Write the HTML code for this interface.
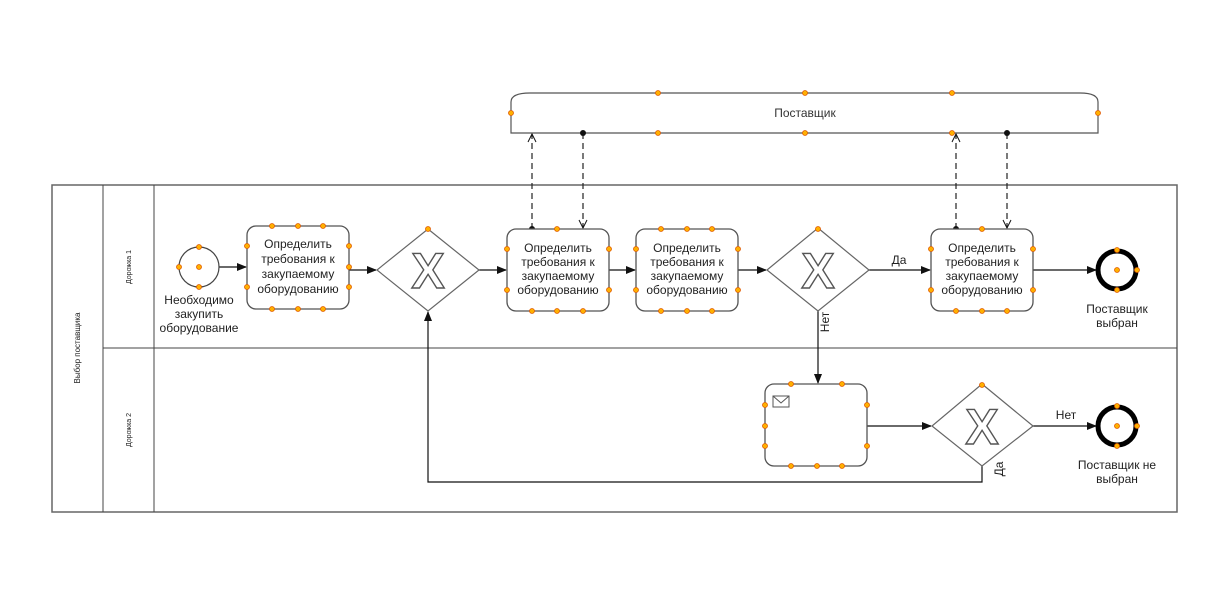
<!DOCTYPE html>
<html><head><meta charset="utf-8"><style>
html,body{margin:0;padding:0;background:#fff;}
svg{display:block;font-family:"Liberation Sans","DejaVu Sans",sans-serif;}
</style></head><body>
<svg width="1232" height="610" viewBox="0 0 1232 610" xmlns="http://www.w3.org/2000/svg">
<defs>
<marker id="a" markerWidth="10" markerHeight="8" refX="9" refY="4" orient="auto" markerUnits="userSpaceOnUse"><path d="M0,0 L10,4 L0,8 z" fill="#111"/></marker>
<marker id="o" markerWidth="10" markerHeight="10" refX="9" refY="5" orient="auto" markerUnits="userSpaceOnUse"><path d="M1,1 L9,5 L1,9" fill="none" stroke="#111" stroke-width="1"/></marker>
</defs>
<rect x="52" y="185" width="1125" height="327" fill="#fff" stroke="#666" stroke-width="1.5"/>
<line x1="103" y1="185" x2="103" y2="512" stroke="#444"/>
<line x1="154" y1="185" x2="154" y2="512" stroke="#444"/>
<line x1="103" y1="348" x2="1177" y2="348" stroke="#444"/>
<text x="80" y="348" font-size="8" text-anchor="middle" transform="rotate(-90 80 348)" fill="#222">Выбор поставщика</text>
<text x="131" y="267" font-size="7" text-anchor="middle" transform="rotate(-90 131 267)" fill="#222">Дорожка 1</text>
<text x="131" y="430" font-size="7" text-anchor="middle" transform="rotate(-90 131 430)" fill="#222">Дорожка 2</text>

<path d="M511,133 L511,102 Q511,93 530,93 L1080,93 Q1098,93 1098,102 L1098,133 Z" fill="#fff" stroke="#555" stroke-width="1.2"/>
<text x="805" y="117" font-size="12" text-anchor="middle" fill="#333">Поставщик</text>

<g stroke="#222" stroke-width="1.2" stroke-dasharray="6,4" fill="none">
<line x1="532" y1="229" x2="532" y2="134" marker-end="url(#o)"/>
<line x1="583" y1="133" x2="583" y2="228" marker-end="url(#o)"/>
<line x1="956" y1="229" x2="956" y2="134" marker-end="url(#o)"/>
<line x1="1007" y1="133" x2="1007" y2="228" marker-end="url(#o)"/>
</g>
<g fill="#111"><circle cx="532" cy="229" r="3"/><circle cx="583" cy="133" r="3"/><circle cx="956" cy="229" r="3"/><circle cx="1007" cy="133" r="3"/></g>

<g stroke="#111" stroke-width="1.2" fill="none">
<line x1="219" y1="267" x2="246" y2="267" marker-end="url(#a)"/>
<line x1="349" y1="270" x2="376" y2="270" marker-end="url(#a)"/>
<line x1="479" y1="270" x2="506" y2="270" marker-end="url(#a)"/>
<line x1="609" y1="270" x2="635" y2="270" marker-end="url(#a)"/>
<line x1="738" y1="270" x2="766" y2="270" marker-end="url(#a)"/>
<line x1="869" y1="270" x2="930" y2="270" marker-end="url(#a)"/>
<line x1="1033" y1="270" x2="1096" y2="270" marker-end="url(#a)"/>
<line x1="818" y1="311" x2="818" y2="383" marker-end="url(#a)"/>
<line x1="867" y1="426" x2="931" y2="426" marker-end="url(#a)"/>
<line x1="1033" y1="426" x2="1096" y2="426" marker-end="url(#a)"/>
<polyline points="982,466 982,482 428,482 428,312" marker-end="url(#a)"/>
</g>
<text x="899" y="264" font-size="12" text-anchor="middle" fill="#222">Да</text>
<text x="1066" y="419" font-size="12" text-anchor="middle" fill="#222">Нет</text>
<text x="829" y="322" font-size="12" text-anchor="middle" transform="rotate(-90 829 322)" fill="#222">Нет</text>
<text x="1003" y="469" font-size="12" text-anchor="middle" transform="rotate(-90 1003 469)" fill="#222">Да</text>

<circle cx="199" cy="267" r="20" fill="#fff" stroke="#444" stroke-width="1.2"/>
<text font-size="12" text-anchor="middle" fill="#222"><tspan x="199" y="304">Необходимо</tspan><tspan x="199" y="318">закупить</tspan><tspan x="199" y="332">оборудование</tspan></text>

<g fill="#fff" stroke="#555" stroke-width="1.3">
<rect x="247" y="226" width="102" height="83" rx="9"/>
<rect x="507" y="229" width="102" height="82" rx="9"/>
<rect x="636" y="229" width="102" height="82" rx="9"/>
<rect x="931" y="229" width="102" height="82" rx="9"/>
<rect x="765" y="384" width="102" height="82" rx="9"/>
</g>
<rect x="773" y="396" width="16" height="11" fill="#fff" stroke="#555"/>
<path d="M773,396 L781,403 L789,396" fill="none" stroke="#555"/>
<g font-size="12" text-anchor="middle" fill="#222">
<text><tspan x="298" y="248">Определить</tspan><tspan x="298" y="263">требования к</tspan><tspan x="298" y="278">закупаемому</tspan><tspan x="298" y="293">оборудованию</tspan></text>
<text><tspan x="558" y="252">Определить</tspan><tspan x="558" y="266">требования к</tspan><tspan x="558" y="280">закупаемому</tspan><tspan x="558" y="294">оборудованию</tspan></text>
<text><tspan x="687" y="252">Определить</tspan><tspan x="687" y="266">требования к</tspan><tspan x="687" y="280">закупаемому</tspan><tspan x="687" y="294">оборудованию</tspan></text>
<text><tspan x="982" y="252">Определить</tspan><tspan x="982" y="266">требования к</tspan><tspan x="982" y="280">закупаемому</tspan><tspan x="982" y="294">оборудованию</tspan></text>
</g>

<g fill="#fff" stroke="#666" stroke-width="1.2">
<polygon points="428,229 479,270 428,311 377,270"/>
<polygon points="818,228 869,270 818,311 767,270"/>
<polygon points="982,384 1033,426 982,466 932,426"/>
</g>
<g font-size="50" font-weight="bold" text-anchor="middle" fill="#fff" stroke="#555" stroke-width="1.4">
<text x="428" y="288">X</text><text x="818" y="288">X</text><text x="982" y="444">X</text>
</g>

<circle cx="1117" cy="270" r="19" fill="#fff" stroke="#000" stroke-width="5"/>
<circle cx="1117" cy="426" r="19" fill="#fff" stroke="#000" stroke-width="5"/>
<text font-size="12" text-anchor="middle" fill="#222"><tspan x="1117" y="313">Поставщик</tspan><tspan x="1117" y="327">выбран</tspan></text>
<text font-size="12" text-anchor="middle" fill="#222"><tspan x="1117" y="469">Поставщик не</tspan><tspan x="1117" y="483">выбран</tspan></text>

<g fill="#ffb000" stroke="#e05a00" stroke-width="0.8">
<circle cx="199" cy="247" r="2.5"/><circle cx="179" cy="267" r="2.5"/><circle cx="199" cy="267" r="2.5"/><circle cx="199" cy="287" r="2.5"/>
<circle cx="272" cy="226" r="2.5"/><circle cx="298" cy="226" r="2.5"/><circle cx="323" cy="226" r="2.5"/>
<circle cx="272" cy="309" r="2.5"/><circle cx="298" cy="309" r="2.5"/><circle cx="323" cy="309" r="2.5"/>
<circle cx="247" cy="246" r="2.5"/><circle cx="247" cy="287" r="2.5"/>
<circle cx="349" cy="246" r="2.5"/><circle cx="349" cy="267" r="2.5"/><circle cx="349" cy="287" r="2.5"/>
<circle cx="428" cy="229" r="2.5"/>
<circle cx="557" cy="229" r="2.5"/><circle cx="532" cy="311" r="2.5"/><circle cx="557" cy="311" r="2.5"/><circle cx="583" cy="311" r="2.5"/>
<circle cx="507" cy="249" r="2.5"/><circle cx="507" cy="290" r="2.5"/><circle cx="609" cy="249" r="2.5"/><circle cx="609" cy="290" r="2.5"/>
<circle cx="661" cy="229" r="2.5"/><circle cx="687" cy="229" r="2.5"/><circle cx="712" cy="229" r="2.5"/>
<circle cx="661" cy="311" r="2.5"/><circle cx="687" cy="311" r="2.5"/><circle cx="712" cy="311" r="2.5"/>
<circle cx="636" cy="249" r="2.5"/><circle cx="636" cy="290" r="2.5"/><circle cx="738" cy="249" r="2.5"/><circle cx="738" cy="290" r="2.5"/>
<circle cx="818" cy="229" r="2.5"/>
<circle cx="982" cy="229" r="2.5"/><circle cx="956" cy="311" r="2.5"/><circle cx="982" cy="311" r="2.5"/><circle cx="1007" cy="311" r="2.5"/>
<circle cx="931" cy="249" r="2.5"/><circle cx="931" cy="290" r="2.5"/><circle cx="1033" cy="249" r="2.5"/><circle cx="1033" cy="290" r="2.5"/>
<circle cx="1117" cy="250" r="2.5"/><circle cx="1117" cy="270" r="2.5"/><circle cx="1137" cy="270" r="2.5"/><circle cx="1117" cy="290" r="2.5"/>
<circle cx="1117" cy="406" r="2.5"/><circle cx="1117" cy="426" r="2.5"/><circle cx="1137" cy="426" r="2.5"/><circle cx="1117" cy="446" r="2.5"/>
<circle cx="791" cy="384" r="2.5"/><circle cx="842" cy="384" r="2.5"/>
<circle cx="791" cy="466" r="2.5"/><circle cx="817" cy="466" r="2.5"/><circle cx="842" cy="466" r="2.5"/>
<circle cx="765" cy="405" r="2.5"/><circle cx="765" cy="426" r="2.5"/><circle cx="765" cy="446" r="2.5"/>
<circle cx="867" cy="405" r="2.5"/><circle cx="867" cy="446" r="2.5"/>
<circle cx="982" cy="385" r="2.5"/>
<circle cx="658" cy="93" r="2.5"/><circle cx="805" cy="93" r="2.5"/><circle cx="952" cy="93" r="2.5"/>
<circle cx="658" cy="133" r="2.5"/><circle cx="805" cy="133" r="2.5"/><circle cx="952" cy="133" r="2.5"/>
<circle cx="511" cy="113" r="2.5"/><circle cx="1098" cy="113" r="2.5"/>
</g>
</svg>
</body></html>
